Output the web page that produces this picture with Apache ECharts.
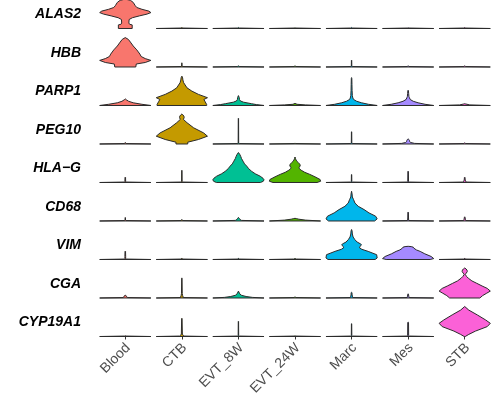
<!DOCTYPE html>
<html>
<head>
<meta charset="utf-8">
<script src="https://cdn.jsdelivr.net/npm/echarts@6/dist/echarts.min.js"></script>
<style>html,body{margin:0;padding:0;background:#fff}#c{width:500px;height:404px}</style>
</head>
<body>
<div id="c"></div>
<script>
// Cell types (x categories) and genes (rows, top to bottom)
const cellTypes = ['Blood', 'CTB', 'EVT_8W', 'EVT_24W', 'Marc', 'Mes', 'STB'];
const genes = ['ALAS2', 'HBB', 'PARP1', 'PEG10', 'HLA\u2212G', 'CD68', 'VIM', 'CGA', 'CYP19A1'];
const palette = ['#F8766D', '#C49A00', '#00C094', '#53B400', '#00B6EB', '#A58AFF', '#FB61D7'];

// Violin profiles per gene: one per cell type, each a list of
// [expression level (% of the row's max), density (% of max width)]
const ALAS2 = [
  [[0,27],[12,27],[14,17],[18,14],[30,15],[36,28],[42,55],[48,85],[53,100],[58,92],[64,65],[70,45],[76,39],[87,31],[94,20],[98,0]],
  [[0,100],[1.5,3],[3,1],[4,0]],
  [[0,100],[1.5,3],[3,1],[4,0]],
  [[0,100],[1.5,3],[2.5,0]],
  [[0,100],[1.5,3],[3,1],[4,0]],
  [[0,100],[1.5,3],[2.5,0]],
  [[0,100],[1.5,3],[3,1],[4,0]]
];
const HBB = [
  [[0,41],[10,43],[15,78],[22,100],[28,78],[35,62],[43,57],[57,45],[70,31],[83,20],[92,12],[98,0]],
  [[0,100],[1.5,3],[3,0.8],[13,0.5],[14,0]],
  [[0,100],[1.5,3],[3,1],[4,0]],
  [[0,100],[1.5,3],[3,1],[4,0]],
  [[0,100],[1.5,3],[3,1],[22,0.6],[23,0]],
  [[0,100],[1.5,3],[3,1],[4,0]],
  [[0,100],[1.5,3],[3,1],[4,0]]
];
const PARP1 = [
  [[0,100],[4,65],[9,31],[14,13],[19,4],[22,0]],
  [[0,97],[3,97],[14,90],[20,86],[26,100],[37,65],[48,39],[59,20],[76,7],[85,4],[92,3],[97,1],[98,0]],
  [[0,100],[3,70],[6,51],[11,20],[15,8],[20,4],[27,3],[33,0]],
  [[0,100],[2,40],[4,8],[7,0]],
  [[0,100],[4,66],[9,39],[14,20],[20,8],[25,5],[33,3],[50,2],[70,1.5],[90,1],[93,0]],
  [[0,100],[4,66],[9,39],[14,20],[20,8],[26,5],[30,3],[40,2],[50,1],[51,0]],
  [[0,100],[2,20],[5,4],[6,0]]
];
const PEG10 = [
  [[0,100],[1.5,3],[3,1],[5,0]],
  [[0,23],[6,23],[15,65],[26,100],[37,85],[54,46],[71,20],[82,6],[88,9],[93,8],[98,3],[100,0]],
  [[0,100],[1.5,3],[3,1],[85,0.6],[86,0]],
  [[0,100],[1.5,3],[2.5,0]],
  [[0,100],[1.5,3],[3,1],[40,0.6],[41,0]],
  [[0,100],[2,25],[5,10],[8,6],[12,5],[15,3],[17,0]],
  [[0,100],[1.5,3],[3,1],[4,0]]
];
const HLAG = [
  [[0,100],[1.5,3],[3,1.5],[17,1],[18,0]],
  [[0,100],[1.5,3],[3,1],[40,0.6],[41,0]],
  [[0,86],[4,97],[9,100],[14,96],[21,85],[29,66],[37,52],[46,40],[54,33],[62,24],[71,18],[80,12],[87,9],[94,5],[100,0]],
  [[0,86],[4,100],[10,98],[19,78],[27,58],[34,38],[41,24],[46,17],[50,16],[55,20],[60,20],[65,14],[70,8],[75,4],[80,2],[85,0]],
  [[0,100],[1.5,3],[3,1],[26,0.6],[27,0]],
  [[0,100],[1.5,3],[3,1.5],[37,1],[38,0]],
  [[0,100],[1.5,5],[4,4],[8,2],[17,1],[18,0]]
];
const CD68 = [
  [[0,100],[1.5,3],[3,1],[11,0.6],[12,0]],
  [[0,100],[1.5,3],[3,1],[5,0]],
  [[0,100],[2,12],[5,6],[9,3],[12,0]],
  [[0,100],[3,40],[6,15],[8,5],[9,0]],
  [[0,90],[7,100],[16,94],[27,68],[38,49],[49,26],[60,13],[71,8],[80,3],[90,2],[99,0]],
  [[0,100],[1.5,3],[3,2],[10,1.5],[29,1],[30,0]],
  [[0,100],[1.5,4],[4,3],[13,1],[14,0]]
];
const VIM = [
  [[0,100],[1.5,3],[3,1.5],[10,1.5],[27,1],[28,0]],
  [[0,100],[1.5,3],[3,1],[5,0]],
  [[0,100],[1.5,3],[3,1],[5,0]],
  [[0,100],[1.5,5],[3,0]],
  [[0,92],[5,100],[16,98],[27,65],[34,40],[39,31],[44,33],[49,39],[53,33],[58,22],[66,13],[75,6],[85,3],[95,2],[100,0]],
  [[0,86],[3,100],[10,90],[19,65],[27,47],[32,32],[38,22],[41,20],[43,12],[44,0]],
  [[0,100],[1.5,3],[3,1],[5,0]]
];
const CGA = [
  [[0,100],[1.5,8],[4,6],[8,3],[9,0]],
  [[0,100],[1.5,5],[4,5],[8,3],[15,1.5],[66,0.6],[67,0]],
  [[0,100],[2,55],[5,30],[9,12],[14,5],[23,0]],
  [[0,100],[1.5,3],[3,1],[4,0]],
  [[0,100],[1.5,5],[4,4],[10,2],[18,1.5],[19,0]],
  [[0,100],[1.5,4],[4,3],[13,1],[14,0]],
  [[0,59],[8,70],[16,86],[23,100],[32,88],[40,68],[49,47],[57,28],[66,14],[72,7],[79,2],[83,6],[88,10],[93,9],[97,5],[100,0]]
];
const CYP19A1 = [
  [[0,100],[1.5,3],[2.5,0]],
  [[0,100],[1.5,8],[4,5],[8,2],[60,0.8],[61,0]],
  [[0,100],[1.5,3],[3,1],[50,0.6],[51,0]],
  [[0,100],[1.5,3],[2.5,0]],
  [[0,100],[1.5,3],[3,1],[42,0.6],[43,0]],
  [[0,100],[1.5,4],[3,2],[47,1.5],[48,0]],
  [[0,2],[7,16],[18,42],[33,88],[44,100],[55,82],[72,49],[88,16],[100,0]]
];
const profiles = [ALAS2, HBB, PARP1, PEG10, HLAG, CD68, VIM, CGA, CYP19A1];

// layout constants (styling only)
const ROW_FILL = 0.779;     // fraction of a row taken by the tallest violin
const HALF_W = 0.4525;      // max half-width as fraction of a category band
const LABEL_OFF = 0.36;     // gene label position above baseline (row units)
const nRows = genes.length;

const items = [];
for (let g = 0; g < nRows; g++) {
  for (let c = 0; c < cellTypes.length; c++) {
    items.push([c, nRows - 1 - g, g]);
  }
}

const chart = echarts.init(document.getElementById('c'), null, {renderer: 'canvas'});
chart.setOption({
  animation: false,
  backgroundColor: '#ffffff',
  grid: {left: 97, top: 0, width: 396, height: 336.5, outerBoundsMode: 'none'},
  xAxis: {
    type: 'category',
    data: cellTypes,
    boundaryGap: true,
    axisLine: {show: false},
    axisTick: {show: true, alignWithLabel: true, length: 3, lineStyle: {color: '#333333', width: 1}},
    axisLabel: {rotate: 45, margin: 12, padding: [0, -4, 0, 0], fontSize: 14, color: '#4D4D4D', fontFamily: 'Liberation Sans, Arial, sans-serif', interval: 0},
    splitLine: {show: false}
  },
  yAxis: {
    type: 'value',
    min: 0,
    max: 8.74,
    axisLine: {show: false},
    axisTick: {show: false},
    splitLine: {show: false},
    axisLabel: {
      show: true,
      customValues: genes.map((g, i) => nRows - 1 - i + LABEL_OFF),
      formatter: function (v) {
        const i = nRows - 1 - Math.round(v - LABEL_OFF);
        return genes[i] || '';
      },
      margin: 16,
      fontSize: 14,
      fontWeight: 'bold',
      fontStyle: 'italic',
      color: '#000000',
      fontFamily: 'Liberation Sans, Arial, sans-serif'
    }
  },
  series: [{
    type: 'custom',
    clip: false,
    encode: {x: 0, y: 1},
    data: items,
    renderItem: function (params, api) {
      const c = api.value(0);
      const base = api.value(1);
      const g = api.value(2);
      const prof = profiles[g][c];
      const band = api.size([1, 0])[0];
      const cx = api.coord([c, base])[0];
      const left = [], right = [];
      for (let k = 0; k < prof.length; k++) {
        const lvl = prof[k][0], d = prof[k][1];
        const py = api.coord([c, base + lvl / 100 * ROW_FILL])[1];
        const hw = d / 100 * HALF_W * band;
        left.push([cx - hw, py]);
        right.push([cx + hw, py]);
      }
      const pts = left.concat(right.reverse());
      return {
        type: 'polygon',
        shape: {points: pts},
        style: {fill: palette[c], stroke: '#2b2b2b', lineWidth: 1, lineJoin: 'round'}
      };
    }
  }]
});
</script>
</body>
</html>
